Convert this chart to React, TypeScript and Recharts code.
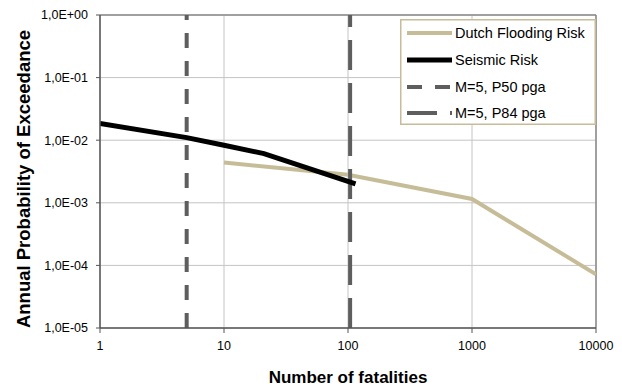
import React from 'react';
import {
  LineChart,
  Line,
  XAxis,
  YAxis,
  CartesianGrid,
  ReferenceLine,
  Legend,
  Label,
} from 'recharts';

// values (log-log exceedance curves)
const floodFatalities = [10, 100, 1000, 10000];
const floodProb = [4.4e-3, 2.8e-3, 1.15e-3, 7.2e-5];

const seismicFatalities = [1, 5, 10, 21, 115];
const seismicProb = [1.85e-2, 1.1e-2, 8.3e-3, 6.1e-3, 2.0e-3];

const p50Fatalities = [5, 5];
const p84Fatalities = [104, 104];
const verticalProb = [1e-5, 1];

const xTicks = [1, 10, 100, 1000, 10000];
const yTicks = [1e-5, 1e-4, 1e-3, 1e-2, 1e-1, 1];

const seriesNames = ['Dutch Flooding Risk', 'Seismic Risk', 'M=5, P50 pga', 'M=5, P84 pga'];

const TAN = '#C6BD98';
const DARK_DASH = '#5E5E5E';
const FONT = 'Arial, "Liberation Sans", sans-serif';

const toPoints = (xs: number[], ys: number[]) => xs.map((x, i) => ({ x, y: ys[i] }));

const floodData = toPoints(floodFatalities, floodProb);
const seismicData = toPoints(seismicFatalities, seismicProb);
const p50Data = toPoints(p50Fatalities, verticalProb);
const p84Data = toPoints(p84Fatalities, verticalProb);

const formatProb = (v: number) => {
  const exp = Math.round(Math.log10(v));
  const sign = exp >= 0 ? '+' : '-';
  return `1,0E${sign}${String(Math.abs(exp)).padStart(2, '0')}`;
};

const legendStyles = [
  { stroke: TAN, width: 4, dash: undefined },
  { stroke: '#000000', width: 5, dash: undefined },
  { stroke: DARK_DASH, width: 4, dash: '15 13' },
  { stroke: DARK_DASH, width: 4, dash: '30 13' },
];

function renderLegend() {
  const rowY = [14, 41, 68, 94];
  return (
    <svg width={196} height={106} style={{ display: 'block' }}>
      <rect x={0.75} y={0.75} width={194.5} height={104.5} fill="#fff" stroke={TAN} strokeWidth={1.5} />
      {seriesNames.map((name, i) => (
        <g key={name}>
          <line
            x1={7}
            x2={52}
            y1={rowY[i]}
            y2={rowY[i]}
            stroke={legendStyles[i].stroke}
            strokeWidth={legendStyles[i].width}
            strokeDasharray={legendStyles[i].dash}
          />
          <text x={55} y={rowY[i]} dy="0.36em" fontFamily={FONT} fontSize={14.5} fill="#000">
            {name}
          </text>
        </g>
      ))}
    </svg>
  );
}

export default function App() {
  const tickStyle = { fill: '#000', fontSize: 12.5, fontFamily: FONT };
  return (
    <div style={{ position: 'absolute', left: 0, top: 0, width: 622, height: 386, background: '#fff' }}>
      <LineChart width={622} height={386} margin={{ top: 15, right: 26, bottom: 0, left: 0 }}>
        <CartesianGrid stroke="#C4C4C4" strokeWidth={1} />
        <XAxis
          type="number"
          dataKey="x"
          scale="log"
          domain={[1, 10000]}
          ticks={xTicks}
          allowDataOverflow
          height={58}
          tick={tickStyle}
          tickSize={5}
          tickMargin={8}
          axisLine={{ stroke: '#555', strokeWidth: 1.5 }}
          tickLine={{ stroke: '#555' }}
        >
          <Label
            value="Number of fatalities"
            position="insideBottom"
            offset={3}
            style={{ fontFamily: FONT, fontSize: 17, fontWeight: 'bold', fill: '#000' }}
          />
        </XAxis>
        <YAxis
          type="number"
          dataKey="y"
          scale="log"
          domain={[1e-5, 1]}
          ticks={yTicks}
          allowDataOverflow
          width={100}
          tick={tickStyle}
          tickFormatter={formatProb}
          tickSize={4}
          tickMargin={8}
          axisLine={{ stroke: '#555', strokeWidth: 1.5 }}
          tickLine={{ stroke: '#555' }}
        >
          <Label
            content={() => (
              <text
                x={30}
                y={179}
                transform="rotate(-90 30 179)"
                textAnchor="middle"
                fontFamily={FONT}
                fontSize={18.5}
                fontWeight="bold"
                fill="#000"
              >
                Annual Probability of Exceedance
              </text>
            )}
          />
        </YAxis>
        <ReferenceLine y={1} stroke="#8A8A8A" strokeWidth={1.5} />
        <ReferenceLine x={10000} stroke="#8A8A8A" strokeWidth={1.5} />
        <Legend
          layout="horizontal"
          verticalAlign="middle"
          align="center"
          content={renderLegend}
          wrapperStyle={{ position: 'absolute', left: 400, top: 19, width: 196, height: 106 }}
        />
        <Line
          data={floodData}
          dataKey="y"
          name={seriesNames[0]}
          stroke={TAN}
          strokeWidth={4}
          dot={false}
          type="linear"
          isAnimationActive={false}
        />
        <Line
          data={p50Data}
          dataKey="y"
          name={seriesNames[2]}
          stroke={DARK_DASH}
          strokeWidth={4}
          strokeDasharray="15 13"
          dot={false}
          type="linear"
          isAnimationActive={false}
        />
        <Line
          data={p84Data}
          dataKey="y"
          name={seriesNames[3]}
          stroke={DARK_DASH}
          strokeWidth={4}
          strokeDasharray="30 13"
          dot={false}
          type="linear"
          isAnimationActive={false}
        />
        <Line
          data={seismicData}
          dataKey="y"
          name={seriesNames[1]}
          stroke="#000"
          strokeWidth={5}
          dot={false}
          type="linear"
          isAnimationActive={false}
        />
      </LineChart>
    </div>
  );
}
